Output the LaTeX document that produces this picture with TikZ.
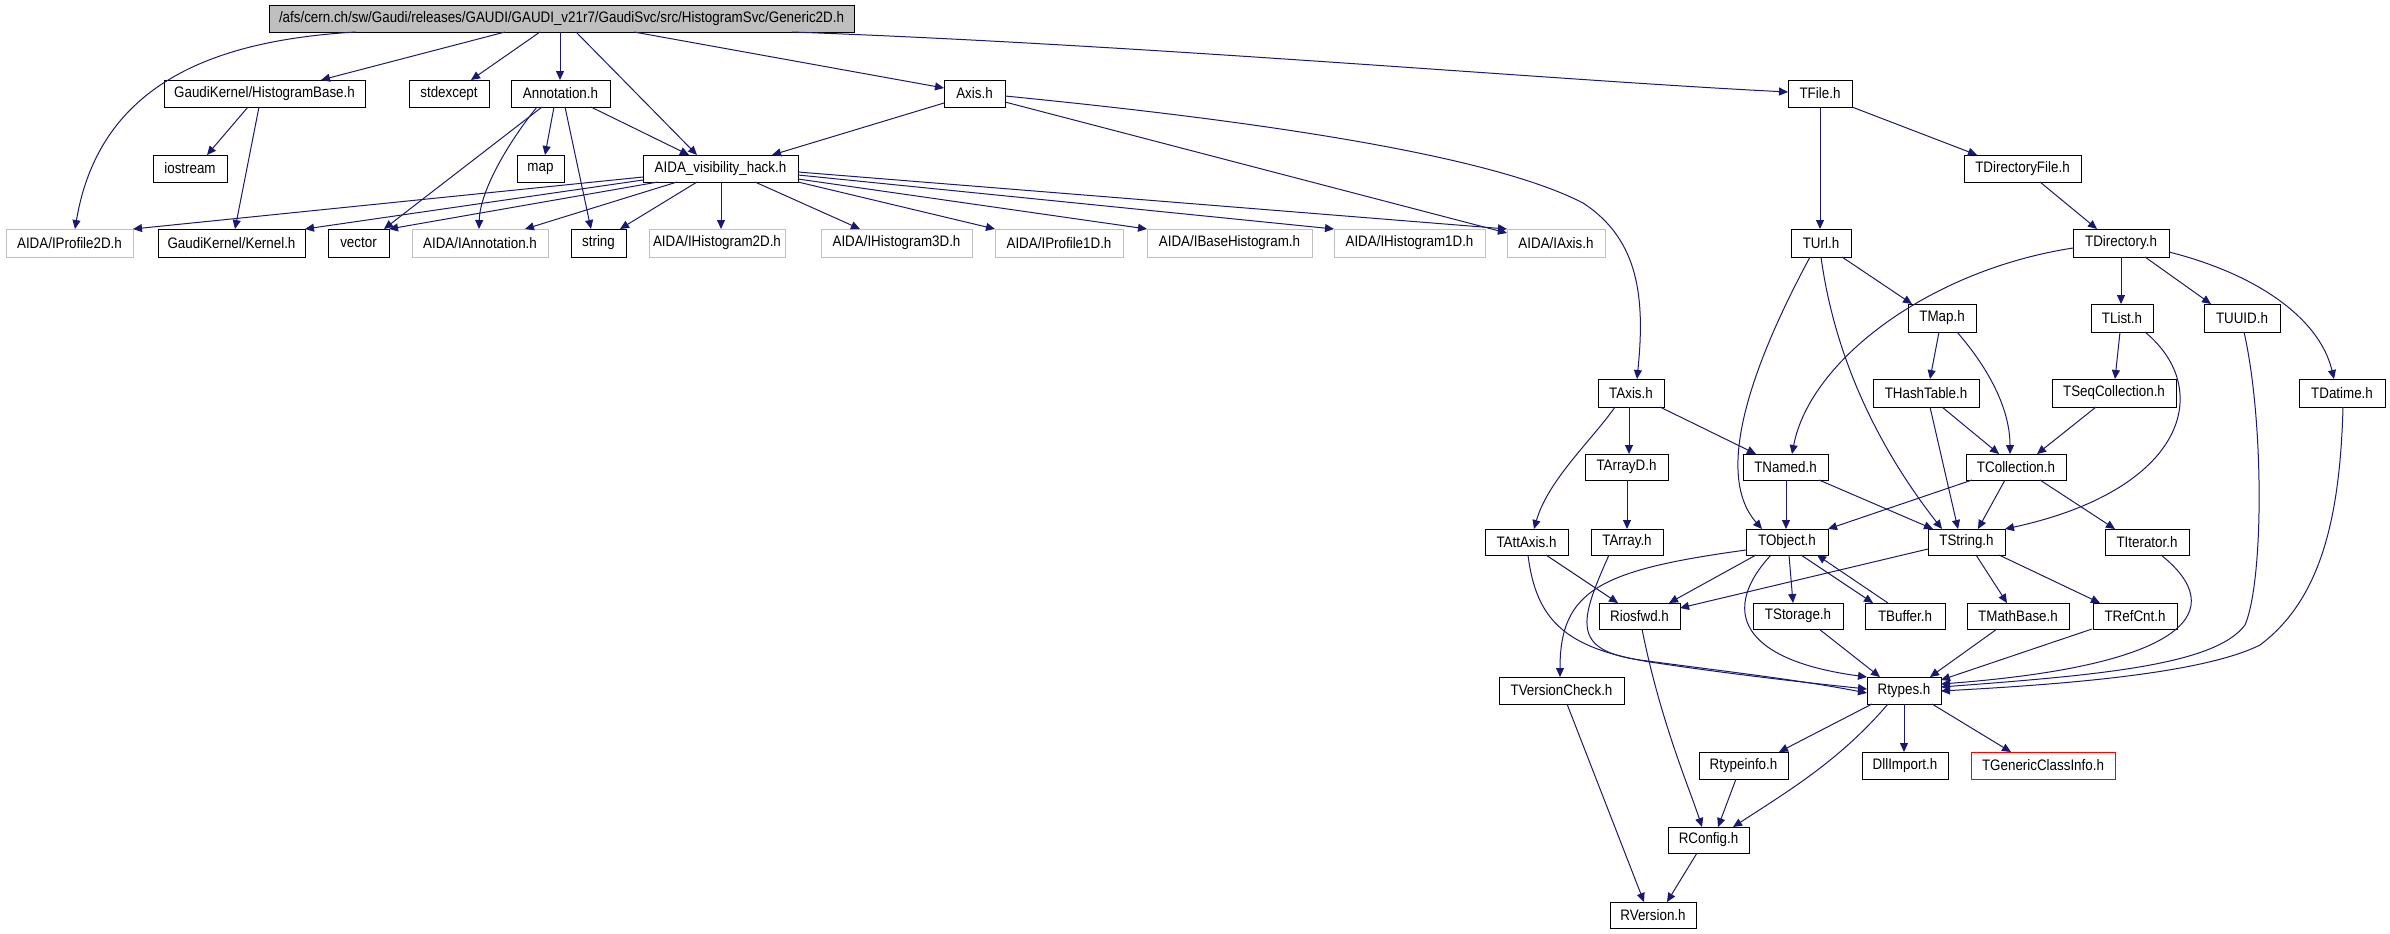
\documentclass[tikz,border=0pt]{standalone}
\usepackage{fontspec}
\setmainfont{Liberation Sans}[FakeStretch=0.88]
\usetikzlibrary{arrows.meta,calc}
\definecolor{edgeblue}{HTML}{191970}
\definecolor{lgrey}{HTML}{BFBFBF}
\newcommand\nbox[7]{\node[#6, minimum width={(#3-#2)*0.5pt}, minimum height={(#5-#4)*0.5pt}] (#1) at ({(#2+#3)/2},{(#4+#5)/2}) {#7};}
\begin{document}
\begin{tikzpicture}[x=0.5pt,y=-0.5pt,
  box/.style={draw=black, line width=0.5pt, inner sep=0pt, outer sep=0pt, font=\fontsize{7.6}{9}\selectfont, fill=white},
  missing/.style={box, draw=lgrey},
  topbox/.style={box, fill=lgrey},
  redbox/.style={box, draw=red},
  link/.style={draw=edgeblue, line width=0.5pt, -{Triangle[length=4.5pt,width=4pt]}}]
\useasboundingbox (0,0) rectangle (2390,933);
% rank 0
\nbox{gen}{269}{854}{5}{32}{topbox}{/afs/cern.ch/sw/Gaudi/releases/GAUDI/GAUDI\_v21r7/GaudiSvc/src/HistogramSvc/Generic2D.h}
% rank 1
\nbox{hb}{164}{365}{80}{107}{box}{GaudiKernel/HistogramBase.h}
\nbox{stdexcept}{409}{489}{80}{107}{box}{stdexcept}
\nbox{annot}{511}{610}{80}{107}{box}{Annotation.h}
\nbox{axis}{944}{1005}{80}{107}{box}{Axis.h}
\nbox{tfile}{1788}{1852}{80}{107}{box}{TFile.h}
% rank 2
\nbox{iostream}{153}{227}{155}{182}{box}{iostream}
\nbox{map}{517}{564}{155}{182}{box}{map}
\nbox{hack}{643}{798}{155}{182}{box}{AIDA\_visibility\_hack.h}
\nbox{tdirfile}{1964}{2081}{155}{182}{box}{TDirectoryFile.h}
% rank 3
\nbox{iprof2d}{6}{133}{229}{257}{missing}{AIDA/IProfile2D.h}
\nbox{kernel}{158}{305}{229}{257}{box}{GaudiKernel/Kernel.h}
\nbox{vector}{328}{389}{229}{257}{box}{vector}
\nbox{iannot}{412}{548}{229}{257}{missing}{AIDA/IAnnotation.h}
\nbox{string}{571}{626}{229}{257}{box}{string}
\nbox{ihist2d}{649}{785}{229}{257}{missing}{AIDA/IHistogram2D.h}
\nbox{ihist3d}{821}{972}{229}{257}{missing}{AIDA/IHistogram3D.h}
\nbox{iprof1d}{995}{1123}{229}{257}{missing}{AIDA/IProfile1D.h}
\nbox{ibase}{1147}{1312}{229}{257}{missing}{AIDA/IBaseHistogram.h}
\nbox{ihist1d}{1334}{1485}{229}{257}{missing}{AIDA/IHistogram1D.h}
\nbox{iaxis}{1507}{1605}{229}{257}{missing}{AIDA/IAxis.h}
\nbox{turl}{1791}{1851}{229}{257}{box}{TUrl.h}
\nbox{tdir}{2073}{2169}{229}{257}{box}{TDirectory.h}
% rank 4
\nbox{tmap}{1908}{1976}{304}{332}{box}{TMap.h}
\nbox{tlist}{2091}{2153}{304}{332}{box}{TList.h}
\nbox{tuuid}{2204}{2280}{304}{332}{box}{TUUID.h}
% rank 5
\nbox{taxis}{1598}{1664}{379}{407}{box}{TAxis.h}
\nbox{thash}{1873}{1979}{379}{407}{box}{THashTable.h}
\nbox{tseq}{2052}{2176}{379}{407}{box}{TSeqCollection.h}
\nbox{tdatime}{2299}{2385}{379}{407}{box}{TDatime.h}
% rank 6
\nbox{tarrayd}{1585}{1668}{454}{480}{box}{TArrayD.h}
\nbox{tnamed}{1743}{1828}{454}{480}{box}{TNamed.h}
\nbox{tcoll}{1966}{2066}{454}{480}{box}{TCollection.h}
% rank 7
\nbox{tattaxis}{1485}{1568}{529}{555}{box}{TAttAxis.h}
\nbox{tarray}{1591}{1663}{529}{555}{box}{TArray.h}
\nbox{tobject}{1746}{1828}{529}{555}{box}{TObject.h}
\nbox{tstring}{1928}{2005}{529}{555}{box}{TString.h}
\nbox{titer}{2105}{2189}{529}{555}{box}{TIterator.h}
% rank 8
\nbox{riosfwd}{1599}{1680}{603}{629}{box}{Riosfwd.h}
\nbox{tstorage}{1753}{1843}{603}{629}{box}{TStorage.h}
\nbox{tbuffer}{1865}{1945}{603}{629}{box}{TBuffer.h}
\nbox{tmathbase}{1967}{2069}{603}{629}{box}{TMathBase.h}
\nbox{trefcnt}{2093}{2177}{603}{629}{box}{TRefCnt.h}
% rank 9
\nbox{tversion}{1499}{1624}{677}{704}{box}{TVersionCheck.h}
\nbox{rtypes}{1867}{1941}{677}{704}{box}{Rtypes.h}
% rank 10
\nbox{rtypeinfo}{1699}{1788}{752}{779}{box}{Rtypeinfo.h}
\nbox{dllimport}{1862}{1948}{752}{779}{box}{DllImport.h}
\nbox{tgeneric}{1971}{2115}{752}{779}{redbox}{TGenericClassInfo.h}
% rank 11, 12
\nbox{rconfig}{1668}{1749}{827}{853}{box}{RConfig.h}
\nbox{rversion}{1610}{1696}{902}{928}{box}{RVersion.h}

% ---- edges ----
% Generic2D
\draw[link] (gen.south -| 356,0) .. controls (220,40) and (100,80) .. (iprof2d.north -| 75,0);
\draw[link] (gen.south -| 505,0) -- (hb.north -| 321,0);
\draw[link] (gen.south -| 540,0) -- (stdexcept.north -| 471,0);
\draw[link] (gen.south -| 560,0) -- (annot.north -| 560,0);
\draw[link] (gen.south -| 576,0) -- (hack.north -| 697,0);
\draw[link] (gen.south -| 634,0) -- (axis.west |- 0,88);
\draw[link] (gen.south -| 792,0) .. controls (1150,45) and (1550,80) .. (tfile.west |- 0,92);
% HistogramBase
\draw[link] (hb.south -| 248,0) -- (iostream.north -| 207,0);
\draw[link] (hb.south -| 259,0) -- (kernel.north -| 235,0);
% Annotation
\draw[link] (annot.south -| 554,0) -- (map.north -| 545,0);
\draw[link] (annot.south -| 542,0) -- (vector.north -| 384,0);
\draw[link] (annot.south -| 537,0) .. controls (510,140) and (480,190) .. (iannot.north -| 479,0);
\draw[link] (annot.south -| 565,0) -- (string.north -| 591,0);
\draw[link] (annot.south -| 591,0) -- (hack.north -| 689,0);
% AIDA_visibility_hack
\draw[link] (hack.west |- 0,177) -- (iprof2d.north east);
\draw[link] (hack.west |- 0,180) -- (kernel.north east);
\draw[link] (hack.south -| 658,0) -- (vector.north east);
\draw[link] (hack.south -| 677,0) -- (iannot.north -| 525,0);
\draw[link] (hack.south -| 697,0) -- (string.north -| 620,0);
\draw[link] (hack.south -| 721,0) -- (ihist2d.north -| 721,0);
\draw[link] (hack.south -| 755,0) -- (ihist3d.north -| 860,0);
\draw[link] (hack.south east) -- (iprof1d.north west);
\draw[link] (hack.east |- 0,179) -- (ibase.north west);
\draw[link] (hack.east |- 0,175) -- (ihist1d.north west);
\draw[link] (hack.east |- 0,172) -- (iaxis.north west);
% Axis
\draw[link] (axis.west |- 0,103) -- (hack.north -| 772,0);
\draw[link] (axis.east |- 0,102) -- ($(iaxis.north west)+(0,4)$);
\draw[link] (axis.east |- 0,96) .. controls (1300,125) and (1500,160) .. (1583,203) .. controls (1640,240) and (1645,300) .. (taxis.north -| 1637,0);
% TFile
\draw[link] (tfile.south -| 1820,0) -- (turl.north -| 1820,0);
\draw[link] (tfile.south east) -- (tdirfile.north -| 1977,0);
\draw[link] (tdirfile.south -| 2040,0) -- (tdir.north -| 2097,0);
% TUrl
\draw[link] (turl.south -| 1842,0) -- (tmap.north -| 1912,0);
\draw[link] (turl.south -| 1810,0) .. controls (1760,350) and (1710,470) .. (tobject.north -| 1762,0);
\draw[link] (turl.south -| 1821,0) .. controls (1835,360) and (1880,450) .. (tstring.north -| 1942,0);
% TDirectory
\draw[link] (tdir.west |- 0,248) .. controls (1930,270) and (1810,360) .. (tnamed.north -| 1792,0);
\draw[link] (tdir.south -| 2121,0) -- (tlist.north -| 2121,0);
\draw[link] (tdir.south -| 2145,0) -- (tuuid.north -| 2211,0);
\draw[link] (tdir.east |- 0,252) .. controls (2260,275) and (2320,320) .. (tdatime.north -| 2334,0);
% TMap, TList
\draw[link] (tmap.south -| 1939,0) -- (thash.north -| 1930,0);
\draw[link] (tmap.south -| 1957,0) .. controls (1990,370) and (2010,410) .. (tcoll.north -| 2010,0);
\draw[link] (tlist.south -| 2120,0) -- (tseq.north -| 2115,0);
\draw[link] (tlist.south -| 2145,0) .. controls (2215,390) and (2185,490) .. (tstring.north east);
% TUUID, TDatime
\draw[link] (tuuid.south -| 2244,0) .. controls (2264,420) and (2264,580) .. (2245,625) .. controls (2215,665) and (2100,675) .. (rtypes.east |- 0,687);
\draw[link] (tdatime.south -| 2343,0) .. controls (2340,520) and (2320,600) .. (2260,645) .. controls (2200,675) and (2050,685) .. (rtypes.east |- 0,691);
% TAxis
\draw[link] (taxis.south -| 1615,0) .. controls (1592,440) and (1548,480) .. (tattaxis.north -| 1534,0);
\draw[link] (taxis.south -| 1629,0) -- (tarrayd.north -| 1629,0);
\draw[link] (taxis.south -| 1660,0) -- (tnamed.north -| 1756,0);
% THashTable, TSeqCollection
\draw[link] (thash.south -| 1942,0) -- (tcoll.north -| 1999,0);
\draw[link] (thash.south -| 1930,0) -- (tstring.north -| 1958,0);
\draw[link] (tseq.south -| 2096,0) -- (tcoll.north -| 2037,0);
% TArrayD, TNamed, TCollection
\draw[link] (tarrayd.south -| 1627,0) -- (tarray.north -| 1627,0);
\draw[link] (tnamed.south -| 1786,0) -- (tobject.north -| 1786,0);
\draw[link] (tnamed.south -| 1819,0) -- (tstring.north -| 1933,0);
\draw[link] (tcoll.south -| 1972,0) -- (tobject.north east);
\draw[link] (tcoll.south -| 2005,0) -- (tstring.north -| 1978,0);
\draw[link] (tcoll.south -| 2040,0) -- (titer.north -| 2115,0);
% TAttAxis, TArray
\draw[link] (tattaxis.south -| 1546,0) -- (riosfwd.north -| 1618,0);
\draw[link] (tattaxis.south -| 1528,0) .. controls (1536,620) and (1565,648) .. (1650,662) .. controls (1730,674) and (1800,682) .. (rtypes.west |- 0,689);
\draw[link] (tarray.south -| 1609,0) .. controls (1580,620) and (1570,650) .. (1640,660) .. controls (1730,672) and (1800,680) .. (rtypes.west |- 0,693);
% TObject
\draw[link] (tobject.west |- 0,550) .. controls (1600,570) and (1560,590) .. (tversion.north -| 1560,0);
\draw[link] (tobject.south -| 1756,0) -- (riosfwd.north -| 1669,0);
\draw[link] (tobject.south -| 1789,0) -- (tstorage.north -| 1793,0);
\draw[link] (tobject.south -| 1801,0) -- (tbuffer.north -| 1873,0);
\draw[link] (tobject.south -| 1771,0) .. controls (1720,610) and (1740,660) .. (rtypes.north west);
\draw[link] (tbuffer.north -| 1888,0) -- (tobject.south -| 1817,0);
% TString
\draw[link] (tstring.west |- 0,549) -- (riosfwd.east |- 0,608);
\draw[link] (tstring.south -| 1976,0) -- (tmathbase.north -| 2007,0);
\draw[link] (tstring.south -| 1999,0) -- (trefcnt.north -| 2100,0);
% into Rtypes
\draw[link] (titer.south -| 2161,0) .. controls (2230,610) and (2190,665) .. (rtypes.east |- 0,684);
\draw[link] (tstorage.south -| 1819,0) -- (rtypes.north -| 1880,0);
\draw[link] (tmathbase.south -| 1997,0) -- (rtypes.north -| 1930,0);
\draw[link] (trefcnt.south -| 2092,0) -- (rtypes.east |- 0,680);
% Riosfwd, Rtypes, ...
\draw[link] (riosfwd.south -| 1642,0) .. controls (1660,720) and (1690,790) .. (rconfig.north -| 1702,0);
\draw[link] (rtypes.south -| 1872,0) -- (rtypeinfo.north -| 1779,0);
\draw[link] (rtypes.south -| 1904,0) -- (dllimport.north -| 1904,0);
\draw[link] (rtypes.south -| 1932,0) -- (tgeneric.north -| 2011,0);
\draw[link] (rtypes.south -| 1888,0) .. controls (1840,760) and (1790,790) .. (rconfig.north -| 1733,0);
\draw[link] (rtypeinfo.south -| 1736,0) -- (rconfig.north -| 1718,0);
\draw[link] (rconfig.south -| 1697,0) -- (rversion.north -| 1667,0);
\draw[link] (tversion.south -| 1567,0) -- (rversion.north -| 1644,0);
\end{tikzpicture}
\end{document}
